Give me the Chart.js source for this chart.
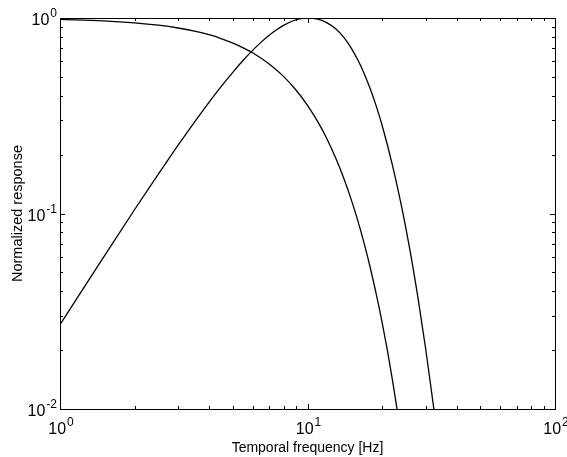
<!DOCTYPE html>
<html>
<head>
<meta charset="utf-8">
<script src="https://cdn.jsdelivr.net/npm/chart.js@4/dist/chart.umd.min.js"></script>
<style>
html,body{margin:0;padding:0;background:#fff;}
#wrap{width:567px;height:457px;position:relative;}
</style>
</head>
<body>
<div id="wrap"><canvas id="c" width="567" height="457"></canvas></div>
<script>
// Low-pass curve (frequency in Hz, normalized response)
const freqLow = [1, 1.5, 2, 2.5, 3, 3.5, 4, 4.5, 5, 5.5, 6, 7, 8, 9, 10, 11, 12, 13, 14, 15, 16, 17, 18, 19, 20, 21, 22, 23];
const respLow = [0.984, 0.967, 0.945, 0.919, 0.889, 0.856, 0.821, 0.783, 0.744, 0.704, 0.664, 0.582, 0.503, 0.427, 0.3575, 0.295, 0.240, 0.192, 0.152, 0.1185, 0.0911, 0.0691, 0.0517, 0.0382, 0.0279, 0.0201, 0.01427, 0.0100];
// Band-pass curve
const freqBand = [1, 1.5, 2, 2.5, 3, 3.5, 4, 4.5, 5, 5.5, 6, 6.5, 7, 7.5, 8, 8.75, 9.5, 10, 11, 12, 13, 14, 15, 16, 17, 18, 19, 20, 22, 24, 26, 28, 30, 32, 32.4];
const respBand = [0.0270, 0.0598, 0.1045, 0.1596, 0.2236, 0.2946, 0.3706, 0.4495, 0.529, 0.6076, 0.6827, 0.7527, 0.816, 0.871, 0.917, 0.968, 0.995, 1.0, 0.986, 0.945, 0.881, 0.798, 0.704, 0.6075, 0.5147, 0.4285, 0.3512, 0.2836, 0.1785, 0.1083, 0.0638, 0.0365, 0.02045, 0.01123, 0.0100];
// Tick labels (powers of ten)
const xTickExps = [0, 1, 2];
const yTickExps = [-2, -1, 0];
const xTitle = 'Temporal frequency [Hz]';
const yTitle = 'Normalized response';

const toPts = (xs, ys) => xs.map((x, i) => ({x: x, y: ys[i]}));

const FONT = '"Liberation Sans", Arial, Helvetica, sans-serif';

function drawPow(ctx, x, baseY, exp, align) {
  const base = '10', ex = String(exp);
  ctx.font = '16px ' + FONT;
  const wb = ctx.measureText(base).width;
  ctx.font = '12px ' + FONT;
  const we = ctx.measureText(ex).width;
  const total = wb + we + 1;
  let x0;
  if (align === 'right') x0 = x - total;
  else x0 = x - total / 2;
  ctx.fillStyle = '#000';
  ctx.textAlign = 'left';
  ctx.textBaseline = 'alphabetic';
  ctx.font = '16px ' + FONT;
  ctx.fillText(base, x0, baseY);
  ctx.font = '12px ' + FONT;
  ctx.fillText(ex, x0 + wb + 1, baseY - 8);
}

const framePlugin = {
  id: 'frame',
  afterDraw(chart) {
    const ctx = chart.ctx;
    const a = chart.chartArea;
    const xs = chart.scales.x, ys = chart.scales.y;
    ctx.save();
    ctx.strokeStyle = '#000';
    ctx.lineWidth = 1;
    ctx.strokeRect(Math.round(a.left) + 0.5, Math.round(a.top) + 0.5,
                   Math.round(a.right - a.left), Math.round(a.bottom - a.top));
    ctx.beginPath();
    // x ticks
    for (let e = xTickExps[0]; e <= xTickExps[xTickExps.length - 1]; e++) {
      for (let m = 1; m <= 9; m++) {
        if (e === xTickExps[xTickExps.length - 1] && m > 1) break;
        const v = m * Math.pow(10, e);
        const px = Math.round(xs.getPixelForValue(v)) + 0.5;
        const len = m === 1 ? 5 : 3;
        ctx.moveTo(px, a.bottom); ctx.lineTo(px, a.bottom - len);
        ctx.moveTo(px, a.top); ctx.lineTo(px, a.top + len);
      }
    }
    // y ticks
    for (let e = yTickExps[0]; e <= yTickExps[yTickExps.length - 1]; e++) {
      for (let m = 1; m <= 9; m++) {
        if (e === yTickExps[yTickExps.length - 1] && m > 1) break;
        const v = m * Math.pow(10, e);
        const py = Math.round(ys.getPixelForValue(v)) + 0.5;
        const len = m === 1 ? 5 : 3;
        ctx.moveTo(a.left, py); ctx.lineTo(a.left + len, py);
        ctx.moveTo(a.right, py); ctx.lineTo(a.right - len, py);
      }
    }
    ctx.stroke();
    // tick labels
    xTickExps.forEach(e => {
      const px = xs.getPixelForValue(Math.pow(10, e));
      drawPow(ctx, px + 1, a.bottom + 25, e, 'center');
    });
    yTickExps.forEach(e => {
      const py = ys.getPixelForValue(Math.pow(10, e));
      drawPow(ctx, a.left - 3, py + 7, e, 'right');
    });
    // titles
    ctx.fillStyle = '#000';
    ctx.font = '14px ' + FONT;
    ctx.textAlign = 'center';
    ctx.textBaseline = 'alphabetic';
    ctx.fillText(xTitle, (a.left + a.right) / 2, 452);
    ctx.save();
    ctx.translate(22, (a.top + a.bottom) / 2);
    ctx.rotate(-Math.PI / 2);
    ctx.font = '14.5px ' + FONT;
    ctx.fillText(yTitle, 0, 0);
    ctx.restore();
    ctx.restore();
  }
};

const lineStyle = {
  borderColor: '#000',
  borderWidth: 1.3,
  pointRadius: 0,
  showLine: true,
  fill: false,
  cubicInterpolationMode: 'monotone'
};

new Chart(document.getElementById('c'), {
  type: 'scatter',
  data: {
    datasets: [
      Object.assign({label: 'low-pass', data: toPts(freqLow, respLow)}, lineStyle),
      Object.assign({label: 'band-pass', data: toPts(freqBand, respBand)}, lineStyle)
    ]
  },
  options: {
    responsive: false,
    animation: false,
    devicePixelRatio: 1,
    layout: {padding: {left: 60, right: 12, top: 18, bottom: 48}},
    plugins: {legend: {display: false}, tooltip: {enabled: false}},
    scales: {
      x: {type: 'logarithmic', min: 1, max: 100, display: false},
      y: {type: 'logarithmic', min: 0.01, max: 1, display: false}
    }
  },
  plugins: [framePlugin]
});
</script>
</body>
</html>
